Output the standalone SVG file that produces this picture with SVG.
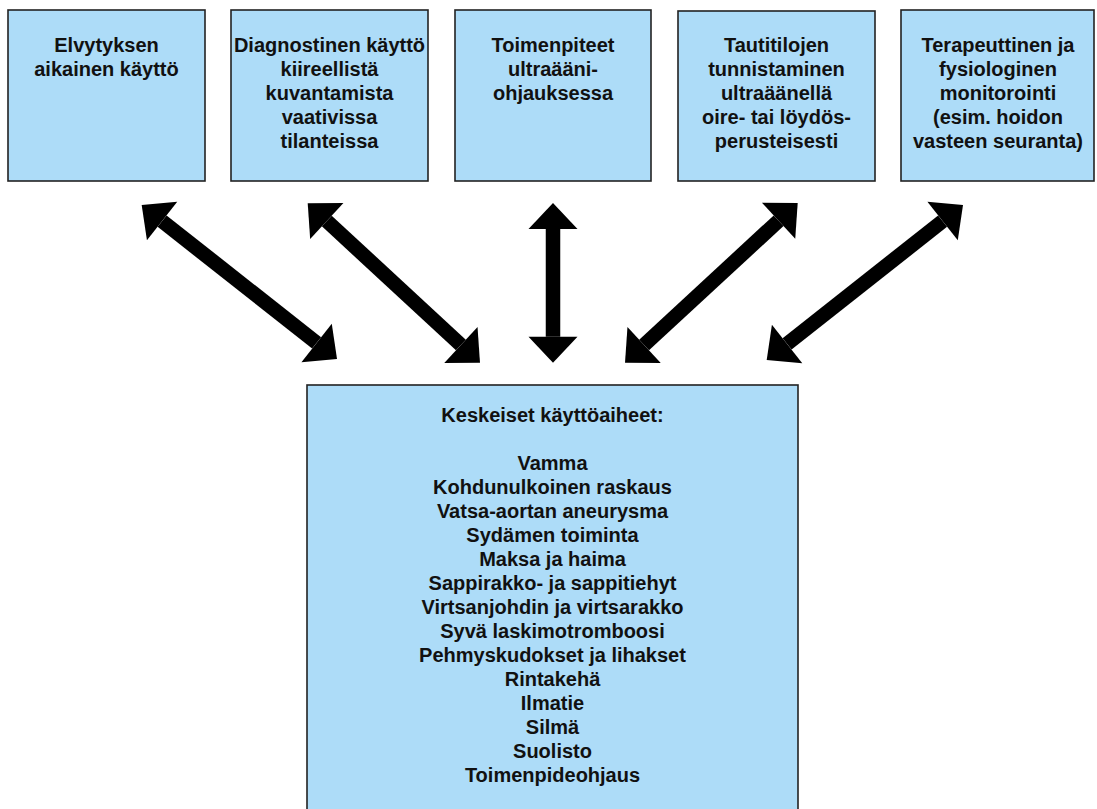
<svg xmlns="http://www.w3.org/2000/svg" width="1097" height="809" viewBox="0 0 1097 809">
  <style>
    .box { fill: #ADDCF8; stroke: #222; stroke-width: 1.6; }
    .lbl { font-family: "Liberation Sans", Arial, sans-serif; font-weight: bold; font-size: 20px; fill: #111; text-anchor: middle; }
    .shaft { stroke: #000; stroke-width: 14.5; fill: none; marker-start: url(#head); marker-end: url(#head); }
  </style>
  <defs>
    <marker id="head" markerUnits="userSpaceOnUse" markerWidth="30" markerHeight="52" viewBox="0 -26 28 52" refX="0" refY="0" orient="auto-start-reverse" overflow="visible">
      <path d="M0,-24.5 L26,0 L0,24.5 Z" fill="#000"/>
    </marker>
  </defs>
  <rect width="1097" height="809" fill="#fff"/>

  <g id="node-elvytys">
    <rect class="box" x="8" y="10" width="197" height="171"/>
    <text class="lbl" x="106.5" y="52">Elvytyksen</text>
    <text class="lbl" x="106.5" y="76">aikainen käyttö</text>
  </g>

  <g id="node-diagnostinen">
    <rect class="box" x="231" y="10" width="197" height="171"/>
    <text class="lbl" x="329.5" y="52">Diagnostinen käyttö</text>
    <text class="lbl" x="329.5" y="76">kiireellistä</text>
    <text class="lbl" x="329.5" y="100">kuvantamista</text>
    <text class="lbl" x="329.5" y="124">vaativissa</text>
    <text class="lbl" x="329.5" y="148">tilanteissa</text>
  </g>

  <g id="node-toimenpiteet">
    <rect class="box" x="455" y="10" width="196" height="171"/>
    <text class="lbl" x="553" y="52">Toimenpiteet</text>
    <text class="lbl" x="553" y="76">ultraääni-</text>
    <text class="lbl" x="553" y="100">ohjauksessa</text>
  </g>

  <g id="node-tautitilat">
    <rect class="box" x="678" y="11" width="197" height="170"/>
    <text class="lbl" x="776.5" y="52">Tautitilojen</text>
    <text class="lbl" x="776.5" y="76">tunnistaminen</text>
    <text class="lbl" x="776.5" y="100">ultraäänellä</text>
    <text class="lbl" x="776.5" y="124">oire- tai löydös-</text>
    <text class="lbl" x="776.5" y="148">perusteisesti</text>
  </g>

  <g id="node-monitorointi">
    <rect class="box" x="901" y="10" width="193" height="171"/>
    <text class="lbl" x="998" y="52">Terapeuttinen ja</text>
    <text class="lbl" x="998" y="76">fysiologinen</text>
    <text class="lbl" x="998" y="100">monitorointi</text>
    <text class="lbl" x="998" y="124">(esim. hoidon</text>
    <text class="lbl" x="998" y="148">vasteen seuranta)</text>
  </g>

  <g id="node-kayttoaiheet">
    <rect class="box" x="307" y="385" width="491" height="440"/>
    <text class="lbl" x="552.5" y="422">Keskeiset käyttöaiheet:</text>
    <text class="lbl" x="552.5" y="470">Vamma</text>
    <text class="lbl" x="552.5" y="494">Kohdunulkoinen raskaus</text>
    <text class="lbl" x="552.5" y="518">Vatsa-aortan aneurysma</text>
    <text class="lbl" x="552.5" y="542">Sydämen toiminta</text>
    <text class="lbl" x="552.5" y="566">Maksa ja haima</text>
    <text class="lbl" x="552.5" y="590">Sappirakko- ja sappitiehyt</text>
    <text class="lbl" x="552.5" y="614">Virtsanjohdin ja virtsarakko</text>
    <text class="lbl" x="552.5" y="638">Syvä laskimotromboosi</text>
    <text class="lbl" x="552.5" y="662">Pehmyskudokset ja lihakset</text>
    <text class="lbl" x="552.5" y="686">Rintakehä</text>
    <text class="lbl" x="552.5" y="710">Ilmatie</text>
    <text class="lbl" x="552.5" y="734">Silmä</text>
    <text class="lbl" x="552.5" y="758">Suolisto</text>
    <text class="lbl" x="552.5" y="782">Toimenpideohjaus</text>
  </g>

  <!-- double-headed connectors between the top boxes and the central box -->
  <g id="connectors">
    <line class="shaft" x1="162.1" y1="221.1" x2="316.6" y2="342.9"/>
    <line class="shaft" x1="326.8" y1="221.0" x2="460.9" y2="345.0"/>
    <line class="shaft" x1="553" y1="229" x2="553" y2="336.7"/>
    <line class="shaft" x1="778.6" y1="220.7" x2="644.1" y2="345.0"/>
    <line class="shaft" x1="942.6" y1="221.1" x2="787.1" y2="343.9"/>
  </g>
</svg>
